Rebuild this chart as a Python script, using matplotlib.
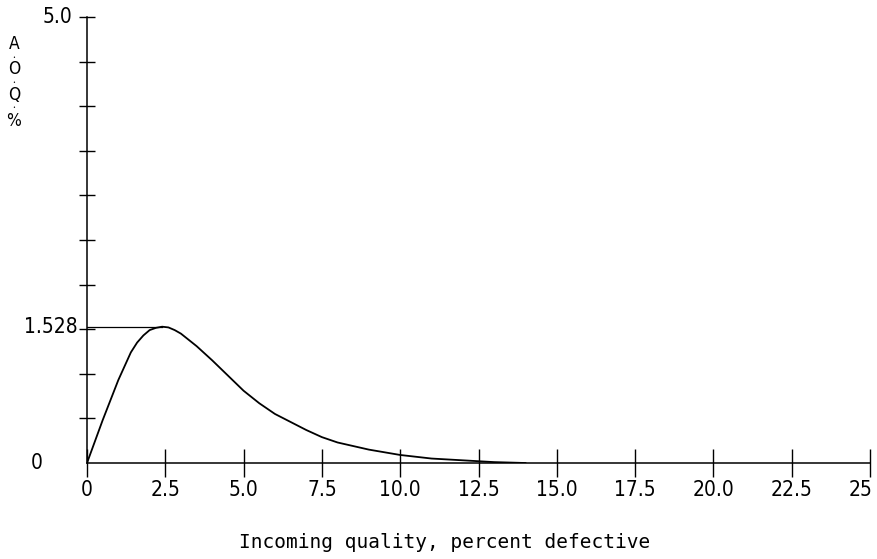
import numpy as np
import matplotlib.pyplot as plt
from matplotlib.transforms import ScaledTranslation

# AOQ curve
incoming_pct = [0, 0.5, 1.0, 1.4, 1.6, 1.8, 2.0, 2.2, 2.4, 2.6, 2.8, 3.0, 3.5, 4.0, 4.5,
                5.0, 5.5, 6.0, 6.5, 7.0, 7.5, 8.0, 9.0, 10.0, 11.0, 12.0, 13.0, 14.0]
aoq_pct = [0, 0.48, 0.93, 1.24, 1.35, 1.43, 1.49, 1.515, 1.528, 1.52, 1.49, 1.45, 1.31,
           1.15, 0.98, 0.81, 0.67, 0.55, 0.46, 0.37, 0.29, 0.23, 0.15, 0.09, 0.05, 0.03,
           0.01, 0.0]

AOQL = 1.528
AOQL_AT = 2.4

x_ticks = [0, 2.5, 5.0, 7.5, 10.0, 12.5, 15.0, 17.5, 20.0, 22.5, 25.0]
x_labels = ["0", "2.5", "5.0", "7.5", "10.0", "12.5", "15.0", "17.5", "20.0", "22.5", "25"]
y_minor = np.arange(0.5, 5.01, 0.5)
y_labels = [(0, "0", -44), (AOQL, "1.528", -9), (5.0, "5.0", -15)]

FONT = dict(fontfamily="DejaVu Sans", fontstretch="condensed")

fig = plt.figure(figsize=(8.77, 5.59), dpi=100)
ax = fig.add_axes([87 / 877, 1 - 463 / 559, (870 - 87) / 877, (463 - 17) / 559])

ax.plot(incoming_pct, aoq_pct, color="black", lw=1.3)
ax.plot([0, AOQL_AT], [AOQL, AOQL], color="black", lw=0.9)

ax.set_xlim(0, 25)
ax.set_ylim(0, 5)
ax.spines["top"].set_visible(False)
ax.spines["right"].set_visible(False)
ax.spines["left"].set_linewidth(1.1)
ax.spines["bottom"].set_linewidth(1.1)

ax.set_xticks(x_ticks)
ax.set_xticklabels(x_labels, fontsize=15, **FONT)
ax.tick_params(axis="x", direction="inout", length=20, width=1.0, pad=2)
# last label sits against the right edge, nudge it in
last = ax.get_xticklabels()[-1]
last.set_transform(last.get_transform() + ScaledTranslation(-7 / 72, 0, fig.dpi_scale_trans))

ax.set_yticks([])
ax.set_yticks(y_minor, minor=True)
ax.tick_params(axis="y", which="minor", direction="inout", length=11, width=1.0)
for val, lab, dx in y_labels:
    ax.annotate(lab, (0, val), xycoords=("axes fraction", "data"),
                xytext=(dx * 0.72, 0), textcoords="offset points",
                ha="right", va="center", fontsize=15, **FONT)

# stacked y label
for i, ch in enumerate(["A", "O", "Q", "%"]):
    fig.text(14 / 877, 1 - (44 + 25.5 * i) / 559, ch, ha="center", va="center",
             fontsize=12.5, **FONT)
    if i < 3:
        fig.text(14 / 877, 1 - (57 + 25.5 * i) / 559, "•", ha="center", va="center",
                 fontsize=3.5)

fig.text(445 / 877, 1 - 543 / 559, "Incoming quality, percent defective",
         ha="center", va="center", fontsize=14, fontfamily="DejaVu Sans Mono")

fig.savefig("out.png", dpi=100)
